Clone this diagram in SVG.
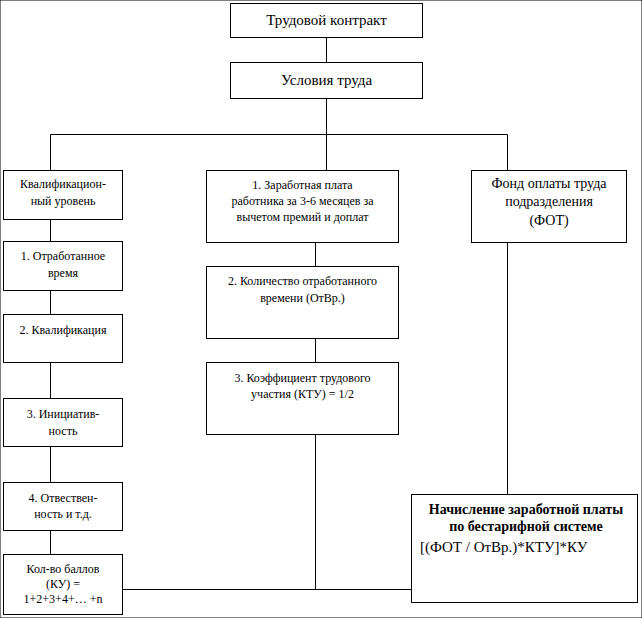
<svg xmlns="http://www.w3.org/2000/svg" width="642" height="618" viewBox="0 0 642 618">
<style>
rect{fill:#fff;stroke:#000;stroke-width:1}
line{stroke:#000;stroke-width:1}
text{font-family:'Liberation Serif','Times New Roman',serif;fill:#000;text-anchor:middle}
.s{font-size:12px}
.xs{font-size:12px}
.m{font-size:14px}
.l{font-size:15px}
.b{font-size:14px;font-weight:bold}
.f{font-size:15px;text-anchor:start}
</style>
<rect width="642" height="618" fill="#fff" stroke="none"/>
<g id="connectors">
<line x1="326.5" y1="37" x2="326.5" y2="62"/>
<line x1="326.5" y1="98" x2="326.5" y2="134.5"/>
<line x1="50.5" y1="134.5" x2="507.5" y2="134.5"/>
<line x1="50.5" y1="134.5" x2="50.5" y2="170"/>
<line x1="326.5" y1="134.5" x2="326.5" y2="170"/>
<line x1="507.5" y1="134.5" x2="507.5" y2="170"/>
<line x1="50.5" y1="219" x2="50.5" y2="241"/>
<line x1="50.5" y1="290" x2="50.5" y2="314"/>
<line x1="50.5" y1="362" x2="50.5" y2="398"/>
<line x1="50.5" y1="446" x2="50.5" y2="482"/>
<line x1="50.5" y1="530" x2="50.5" y2="554"/>
<line x1="315.5" y1="242" x2="315.5" y2="266"/>
<line x1="315.5" y1="338" x2="315.5" y2="362"/>
<line x1="315.5" y1="434" x2="315.5" y2="589.5"/>
<line x1="122" y1="589.5" x2="411" y2="589.5"/>
<line x1="507.5" y1="242" x2="507.5" y2="494"/>
</g>
<g id="n-contract"><rect x="230.5" y="3.5" width="192" height="34"/><text class="l" x="326.5" y="25">Трудовой контракт</text></g>
<g id="n-conditions"><rect x="230.5" y="62.5" width="192" height="36"/><text class="l" x="326.5" y="85">Условия труда</text></g>
<g id="n-qual-level"><rect x="3.5" y="170.5" width="119" height="49"/><text class="s" x="63" y="188">Квалификацион-</text><text class="s" x="63" y="205">ный уровень</text></g>
<g id="n-time"><rect x="3.5" y="241.5" width="119" height="49"/><text class="s" x="63" y="260">1. Отработанное</text><text class="s" x="63" y="277">время</text></g>
<g id="n-qual"><rect x="3.5" y="314.5" width="119" height="48"/><text class="s" x="63" y="334">2. Квалификация</text></g>
<g id="n-init"><rect x="3.5" y="398.5" width="119" height="48"/><text class="s" x="63" y="418">3. Инициатив-</text><text class="s" x="63" y="435">ность</text></g>
<g id="n-resp"><rect x="3.5" y="482.5" width="119" height="48"/><text class="xs" x="63" y="502">4. Отвествен-</text><text class="xs" x="63" y="518">ность и т.д.</text></g>
<g id="n-points"><rect x="3.5" y="554.5" width="119" height="60"/><text class="xs" x="63" y="573">Кол-во баллов</text><text class="xs" x="63" y="588">(КУ) =</text><text class="xs" x="63" y="603">1+2+3+4+… +n</text></g>
<g id="n-salary"><rect x="206.5" y="170.5" width="192" height="72"/><text class="s" x="302.5" y="189">1. Заработная плата</text><text class="s" x="302.5" y="205">работника за 3-6 месяцев за</text><text class="s" x="302.5" y="221">вычетом премий и доплат</text></g>
<g id="n-hours"><rect x="206.5" y="266.5" width="192" height="72"/><text class="s" x="302.5" y="285">2. Количество отработанного</text><text class="s" x="302.5" y="302">времени (ОтВр.)</text></g>
<g id="n-ktu"><rect x="206.5" y="362.5" width="192" height="72"/><text class="s" x="302.5" y="382">3. Коэффициент трудового</text><text class="s" x="302.5" y="398">участия (КТУ) = 1/2</text></g>
<g id="n-fot"><rect x="471.5" y="170.5" width="155" height="72"/><text class="m" x="549" y="188">Фонд оплаты труда</text><text class="m" x="549" y="206">подразделения</text><text class="m" x="549" y="225">(ФОТ)</text></g>
<g id="n-result"><rect x="411.5" y="494.5" width="226" height="108"/><text class="b" x="526" y="514">Начисление заработной платы</text><text class="b" x="526" y="531">по бестарифной системе</text><text class="f" x="420" y="552">[(ФОТ / ОтВр.)*КТУ]*КУ</text></g>
</svg>
